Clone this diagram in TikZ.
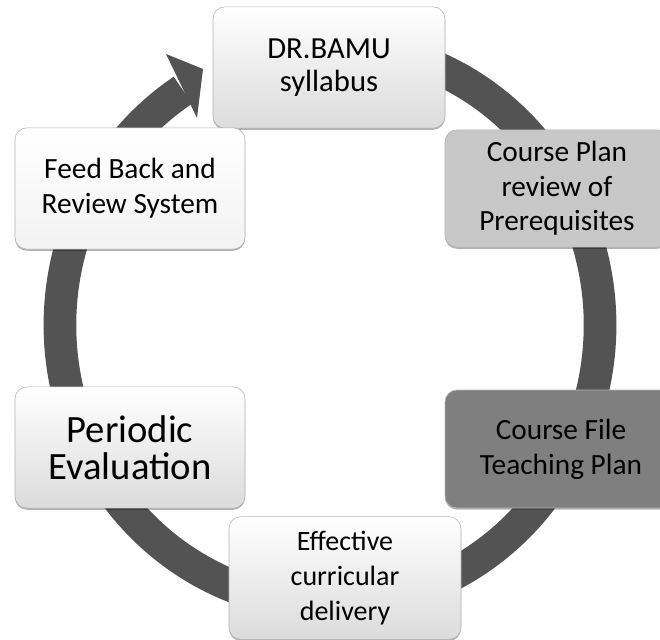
\documentclass[tikz,border=0pt]{standalone}
\usepackage{fontspec}
\setsansfont{Carlito}
\usetikzlibrary{positioning,shadows,calc}

\definecolor{ringgray}{HTML}{535353}
\definecolor{plangray}{HTML}{C8C8C8}
\definecolor{filegray}{HTML}{7F7F7F}

\begin{document}
\begin{tikzpicture}[
  x=0.75pt, y=-0.75pt,
  font=\sffamily,
  box/.style={draw=gray!60, rounded corners=9pt, align=center, inner sep=0pt,
    minimum width=174pt, minimum height=91pt,
    drop shadow={shadow xshift=0pt, shadow yshift=-1.2pt, opacity=.3, fill=black}},
  light/.style={box, top color=white, bottom color=gray!28},
  pale/.style={box, top color=white, bottom color=gray!10},
  flat/.style={box, fill=#1},
  ring/.style={draw=ringgray, line width=24.5pt}]

  % Rahmen
  \clip (0,0) rectangle (660,639);
  \useasboundingbox (0,0) rectangle (660,639);
  \coordinate (ctr) at (330,325);

  % Kreis mit Pfeil
  \draw[ring] ($(ctr)+(-70:270 and 280)$) arc[start angle=-70, end angle=237,
      x radius=270, y radius=280];
  \coordinate (headA) at (166,54);
  \coordinate (headB) at (203,69);
  \coordinate (headC) at (197,118);
  \fill[ringgray] (headA) -- (headB) -- (headC) -- cycle;

  % Kaesten
  \node[light, font=\sffamily\fontsize{23}{25}\selectfont] (bamu) at (329,67.5)
      {DR.BAMU\\syllabus};
  \node[flat=plangray, minimum width=168pt, minimum height=88pt,
      font=\sffamily\fontsize{22}{26}\selectfont] (plan) at (557,188.5)
      {Course Plan\\review of\\Prerequisites};
  \node[flat=filegray, minimum height=88.5pt,
      font=\sffamily\fontsize{22}{26}\selectfont] (file) at (561,449)
      {Course File\\Teaching Plan};
  \node[light, minimum height=92pt, font=\sffamily\fontsize{21}{26}\selectfont]
      (deliv) at (345,578) {Effective\\curricular\\delivery};
  \node[light, minimum width=172.5pt, font=\sffamily\fontsize{29}{28}\selectfont]
      (eval) at (130,447.5) {Periodic\\Evaluation};
  \node[pale, minimum width=172.5pt, font=\sffamily\fontsize{22}{26}\selectfont]
      (feed) at (130,188.5) {Feed Back and\\Review System};

\end{tikzpicture}
\end{document}
